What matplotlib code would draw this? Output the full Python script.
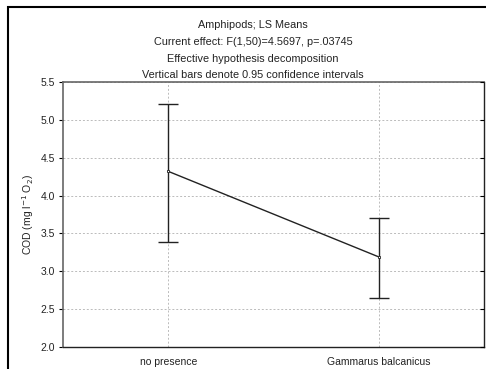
import matplotlib
matplotlib.use("Agg")
import matplotlib.pyplot as plt
from matplotlib.patches import Rectangle

plt.rcParams['font.family'] = ['Liberation Sans', 'DejaVu Sans']

categories = ["no presence", "Gammarus balcanicus"]
means = [4.32, 3.19]
ci_low = [3.39, 2.65]
ci_high = [5.21, 3.70]
yticks = [2.0, 2.5, 3.0, 3.5, 4.0, 4.5, 5.0, 5.5]
title_lines = [
    "Amphipods; LS Means",
    "Current effect: F(1,50)=4.5697, p=.03745",
    "Effective hypothesis decomposition",
    "Vertical bars denote 0.95 confidence intervals",
]

fig = plt.figure(figsize=(4.86, 3.69), dpi=100)
fig.patch.set_facecolor("white")

# outer frame (cut off at right and bottom in the original)
fig.patches.append(Rectangle((8 / 486, -0.05), 1.2, 1 - 7 / 369 + 0.05,
                             transform=fig.transFigure, fill=False,
                             edgecolor="black", linewidth=1.5))

ax = fig.add_axes([63 / 486, 22 / 369, 421 / 486, 265 / 369])
x = list(range(len(categories)))
yerr = [[m - lo for m, lo in zip(means, ci_low)],
        [hi - m for m, hi in zip(means, ci_high)]]
ax.errorbar(x, means, yerr=yerr, fmt="none", ecolor="#222222",
            elinewidth=1.0, capsize=7.5, capthick=1.0, zorder=3)
ax.plot(x, means, color="#222222", linewidth=1.0, marker="s", markersize=2,
        markerfacecolor="white", markeredgecolor="#222222",
        markeredgewidth=0.6, zorder=4)

ax.set_xlim(-0.5, 1.5)
ax.set_ylim(2.0, 5.5)
ax.set_yticks(yticks)
ax.set_yticklabels([f"{v:.1f}" for v in yticks], fontsize=7.5, color="#222222")
ax.set_xticks(x)
ax.set_xticklabels(categories, fontsize=7.5, color="#222222")
ax.tick_params(axis="x", length=0, pad=7)
ax.tick_params(axis="y", which="both", left=True, right=False,
               length=3, width=0.8, pad=3, direction="out")
# inward ticks on the right side
ax2 = ax.twinx()
ax2.set_ylim(ax.get_ylim())
ax2.set_yticks(yticks)
ax2.set_yticklabels([])
ax2.tick_params(axis="y", direction="in", length=3, width=0.8)
for s in ax2.spines.values():
    s.set_visible(False)

ax.grid(True, color="#bbbbbb", linestyle=(0, (2, 2)), linewidth=0.7)
ax.set_axisbelow(True)
for s in ["left", "top"]:
    ax.spines[s].set_color("#666666")
    ax.spines[s].set_linewidth(1.2)
for s in ["bottom", "right"]:
    ax.spines[s].set_color("#222222")
    ax.spines[s].set_linewidth(1.0)

ax.set_ylabel("COD (mg l$^{-1}$ O$_2$)", fontsize=7.5, color="#222222",
              labelpad=0)
ax.yaxis.set_label_coords(-27 / 421, 0.5)

ty = [25, 42, 59, 75]
for t, yy in zip(title_lines, ty):
    fig.text(253 / 486, 1 - yy / 369, t, ha="center", va="center",
             fontsize=7.8, color="#222222")

fig.savefig("out.png", dpi=100)
